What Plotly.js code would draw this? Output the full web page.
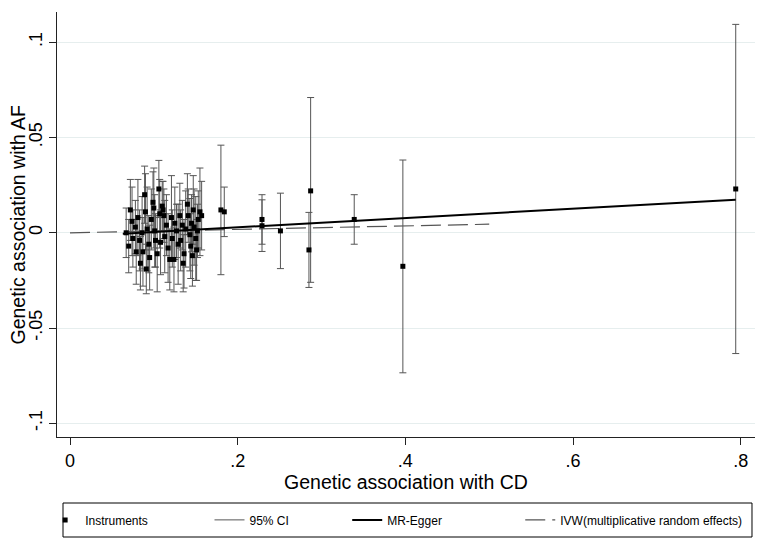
<!DOCTYPE html>
<html>
<head>
<meta charset="utf-8">
<script src="https://cdn.plot.ly/plotly-3.0.1.min.js"></script>
<style>
  html, body { margin: 0; padding: 0; background: #fff; }
  #chart { width: 765px; height: 545px; }
</style>
</head>
<body>
<div id="chart"></div>
<script>
// instruments: genetic association with CD (x), with AF (y), 95% CI bounds
const instX = [0.067, 0.070, 0.072, 0.074, 0.075, 0.078, 0.079, 0.081, 0.083, 0.084,
               0.086, 0.087, 0.089, 0.090, 0.091, 0.092, 0.094, 0.095, 0.097, 0.099,
               0.100, 0.101, 0.102, 0.104, 0.106, 0.107, 0.108, 0.110, 0.111, 0.112,
               0.113, 0.115, 0.117, 0.119, 0.121, 0.122, 0.124, 0.125, 0.127, 0.129,
               0.131, 0.132, 0.134, 0.135, 0.136, 0.138, 0.140, 0.141, 0.143, 0.144,
               0.145, 0.146, 0.147, 0.148, 0.150, 0.151, 0.152, 0.153, 0.155, 0.157,
               0.180, 0.184, 0.229, 0.229, 0.251, 0.285, 0.287, 0.339, 0.397, 0.794];
const instY = [0.000, -0.007, 0.012, 0.006, -0.003, 0.003, -0.010, 0.008, -0.004, -0.016,
               0.000, -0.010, 0.020, 0.011, -0.019, 0.002, -0.006, -0.013, 0.007, 0.016,
               0.013, 0.001, -0.004, -0.011, 0.023, 0.010, -0.005, 0.014, 0.012, 0.009,
               -0.002, 0.004, -0.008, -0.014, 0.008, -0.003, -0.014, 0.005, 0.001, -0.006,
               0.009, -0.004, 0.004, -0.016, -0.011, 0.002, 0.015, 0.009, -0.001, -0.007,
               0.005, -0.012, 0.012, 0.003, -0.003, -0.009, 0.001, 0.007, 0.011, 0.009,
               0.012, 0.011, 0.007, 0.0037, 0.001, -0.009, 0.022, 0.007, -0.0176, 0.023];
const ciLow = [-0.013, -0.021, -0.004, -0.012, -0.018, -0.011, -0.027, -0.012, -0.020, -0.030,
               -0.019, -0.028, 0.005, -0.009, -0.032, -0.020, -0.021, -0.030, -0.009, 0.000,
               -0.008, -0.018, -0.018, -0.031, 0.008, -0.008, -0.022, 0.001, -0.003, -0.005,
               -0.021, -0.012, -0.026, -0.030, -0.014, -0.018, -0.031, -0.014, -0.013, -0.027,
               -0.008, -0.020, -0.009, -0.031, -0.029, -0.018, -0.001, -0.005, -0.020, -0.024,
               -0.010, -0.028, -0.006, -0.017, -0.025, -0.025, -0.013, -0.008, -0.012, -0.009,
               -0.022, -0.002, -0.006, -0.0098, -0.0188, -0.0287, -0.026, -0.006, -0.0735, -0.0634];
const ciHigh = [0.013, 0.007, 0.028, 0.024, 0.012, 0.017, 0.007, 0.028, 0.012, -0.002,
                0.019, 0.008, 0.035, 0.031, -0.006, 0.024, 0.009, 0.004, 0.023, 0.032,
                0.034, 0.020, 0.010, 0.009, 0.038, 0.028, 0.012, 0.027, 0.027, 0.023,
                0.017, 0.020, 0.010, 0.002, 0.030, 0.012, 0.003, 0.024, 0.015, 0.015,
                0.026, 0.012, 0.017, -0.001, 0.007, 0.022, 0.031, 0.023, 0.018, 0.010,
                0.020, 0.004, 0.030, 0.023, 0.019, 0.007, 0.015, 0.022, 0.034, 0.027,
                0.046, 0.024, 0.020, 0.0173, 0.0208, 0.0107, 0.071, 0.020, 0.0382, 0.1094];

// fitted lines (end points)
const eggerX = [0.063, 0.794];
const eggerY = [-0.0005, 0.0174];
const ivwX = [0, 0.5];
const ivwY = [0, 0.0045];

const xTicks = [0, 0.2, 0.4, 0.6, 0.8];
const xTickText = ["0", ".2", ".4", ".6", ".8"];
const yTicks = [-0.1, -0.05, 0, 0.05, 0.1];
const yTickText = ["-.1", "-.05", "0", ".05", ".1"];

// CI segments and caps built from the arrays above
let segX = [], segY = [], capX = [], capY = [];
for (let i = 0; i < instX.length; i++) {
    segX.push(instX[i], instX[i], null);
    segY.push(ciLow[i], ciHigh[i], null);
    capX.push(instX[i], instX[i]);
    capY.push(ciLow[i], ciHigh[i]);
}

// legend spacing: pad names with non-breaking spaces
function pad(name, n) {
    return name + "\u00a0".repeat(n);
}

const traces = [
    {
        x: segX, y: segY, mode: "lines", name: pad("95% CI", 16), legendrank: 2,
        line: { color: "#555", width: 1 }, hoverinfo: "skip"
    },
    {
        x: capX, y: capY, mode: "markers", showlegend: false, hoverinfo: "skip",
        marker: { symbol: "line-ew", size: 5, line: { color: "#555", width: 1 } }
    },
    {
        x: ivwX, y: ivwY, mode: "lines", name: "IVW(multiplicative random effects)", legendrank: 4,
        line: { color: "#555", width: 1.2, dash: "20px,7px" }
    },
    {
        x: eggerX, y: eggerY, mode: "lines", name: pad("MR-Egger", 22), legendrank: 3,
        line: { color: "#000", width: 2 }
    },
    {
        x: instX, y: instY, mode: "markers", name: pad("Instruments", 17), legendrank: 1,
        marker: { symbol: "square", size: 5, color: "#000" }
    }
];

const fam = "Liberation Sans, Arial, sans-serif";
const axisFont = { family: fam, size: 18, color: "#000" };

const layout = {
    width: 765,
    height: 545,
    margin: { l: 57, r: 10, t: 12, b: 108 },
    paper_bgcolor: "#fff",
    plot_bgcolor: "#fff",
    showlegend: true,
    xaxis: {
        range: [-0.0155, 0.817],
        tickvals: xTicks,
        ticktext: xTickText,
        ticks: "outside",
        ticklen: 7,
        tickcolor: "#222",
        showgrid: false,
        zeroline: false,
        showline: true,
        linecolor: "#222",
        linewidth: 1.3,
        tickfont: axisFont,
        title: { text: "Genetic association with CD", font: { family: fam, size: 19.5, color: "#000" }, standoff: 4 }
    },
    yaxis: {
        range: [-0.1072, 0.1159],
        tickvals: yTicks,
        ticktext: yTickText,
        tickangle: -90,
        ticks: "outside",
        ticklen: 7,
        tickcolor: "#222",
        showgrid: true,
        gridcolor: "#e6eeee",
        gridwidth: 1,
        zeroline: false,
        showline: true,
        linecolor: "#222",
        linewidth: 1.3,
        tickfont: axisFont
    },
    annotations: [{
        text: "Genetic association with AF",
        xref: "paper", yref: "paper",
        x: -0.0573, y: 0.5, xanchor: "center", yanchor: "middle",
        textangle: -90, showarrow: false,
        font: { family: fam, size: 19.5, color: "#000" }
    }],
    shapes: [{
        type: "rect", xref: "paper", yref: "paper",
        x0: 0.0086, x1: 0.9957, y0: -0.2353, y1: -0.1553,
        line: { color: "#000", width: 1 }, fillcolor: "rgba(0,0,0,0)"
    }],
    legend: {
        orientation: "h",
        x: -0.017,
        xanchor: "left",
        y: -0.195,
        yanchor: "middle",
        borderwidth: 0,
        bgcolor: "rgba(0,0,0,0)",
        font: { family: fam, size: 12, color: "#000" },
        itemwidth: 30,
        traceorder: "normal"
    }
};

Plotly.newPlot("chart", traces, layout, { displayModeBar: false, staticPlot: true });
</script>
</body>
</html>
